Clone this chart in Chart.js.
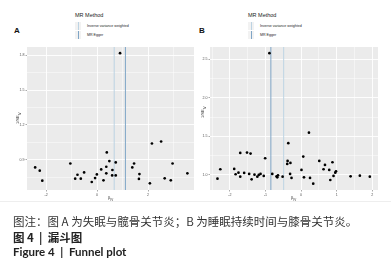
<!DOCTYPE html>
<html>
<head>
<meta charset="utf-8">
<script src="https://cdn.jsdelivr.net/npm/chart.js@4.4.1/dist/chart.umd.min.js"></script>
<style>
  body { margin: 0; width: 391px; height: 267px; background: #fff; position: relative; overflow: hidden; font-family: "Liberation Sans", Arial, sans-serif; }
  .abs { position: absolute; white-space: nowrap; }
  canvas { position: absolute; }
  .lgTitle { font-size: 5.5px; color: #222; }
  .lgTxt { font-size: 3.6px; color: #222; }
  .key { position: absolute; width: 6px; height: 8px; background: #f2f2f2; }
  .key i { position: absolute; left: 2.5px; top: 0; width: 1px; height: 8px; }
  .panel { font-weight: bold; font-size: 8px; color: #111; }
  .ytitle { font-size: 4px; color: #333; transform: rotate(-90deg); transform-origin: left top; }
  .xtitle { font-size: 4px; color: #333; }
  .cap { font-family: "Noto Sans CJK SC", sans-serif; font-size: 11.5px; color: #333; }
  .capb { font-family: "Noto Sans CJK SC", sans-serif; font-size: 11.5px; font-weight: bold; color: #222; }
  .capEn { font-family: Lato, sans-serif; font-size: 11.5px; font-weight: bold; color: #222; }
</style>
</head>
<body>
<canvas id="chartA" style="left:0;top:40px;width:200px;height:165px" width="200" height="165"></canvas>
<canvas id="chartB" style="left:200px;top:40px;width:191px;height:165px" width="191" height="165"></canvas>

<div class="abs panel" style="left:14px;top:26px">A</div>
<div class="abs panel" style="left:199px;top:26px">B</div>

<div class="abs lgTitle" style="left:75px;top:12px">MR Method</div>
<div class="key" style="left:75px;top:22px"><i style="background:#bcd3e3"></i></div>
<div class="key" style="left:75px;top:31px"><i style="background:#7fa5c6"></i></div>
<div class="abs lgTxt" style="left:87px;top:24px">Inverse variance weighted</div>
<div class="abs lgTxt" style="left:87px;top:32.5px">MR Egger</div>

<div class="abs lgTitle" style="left:248px;top:12px">MR Method</div>
<div class="key" style="left:248px;top:22px"><i style="background:#bcd3e3"></i></div>
<div class="key" style="left:248px;top:31px"><i style="background:#7fa5c6"></i></div>
<div class="abs lgTxt" style="left:260px;top:24px">Inverse variance weighted</div>
<div class="abs lgTxt" style="left:260px;top:32.5px">MR Egger</div>

<div class="abs ytitle" style="left:15px;top:124px">1/SE<sub style="font-size:3px">IV</sub></div>
<div class="abs ytitle" style="left:200px;top:118px">1/SE<sub style="font-size:3px">IV</sub></div>
<div class="abs xtitle" style="left:108px;top:195px">β<sub style="font-size:3px">IV</sub></div>
<div class="abs xtitle" style="left:291px;top:195px">β<sub style="font-size:3px">IV</sub></div>

<div class="abs" style="left:0;top:201px;width:391px;height:1px;background:#eee"></div>
<div class="abs cap" style="left:13px;top:213px">图注：图 A 为失眠与髋骨关节炎；B 为睡眠持续时间与膝骨关节炎。</div>
<div class="abs capb" style="left:13px;top:229px">图 4 &nbsp;|&nbsp; 漏斗图</div>
<div class="abs capEn" style="left:13px;top:245px">Figure 4 &nbsp;|&nbsp; Funnel plot</div>

<script>
// Panel A: insomnia vs hip osteoarthritis
const betaA = [-2.43, -2.25, -2.15, -1.05, -0.86, -0.77, -0.64, -0.51, -0.21, -0.08, -0.01, 0.16, 0.25, 0.36, 0.38, 0.36,
  0.48, 0.60, 0.59, 0.73, 0.73, 1.38, 1.45, 1.66, 1.64, 2.07, 2.15, 2.51, 2.65, 2.89, 2.96, 3.54, 0.90];
const invSeA = [0.834, 0.806, 0.720, 0.868, 0.737, 0.771, 0.737, 0.791, 0.709, 0.743, 0.774, 0.817, 0.723, 0.840, 0.963, 0.783,
  0.889, 0.812, 0.765, 0.877, 0.765, 0.834, 0.868, 0.777, 0.735, 0.697, 1.040, 1.057, 0.740, 0.723, 0.868, 0.783, 1.817];
const ivwA = 0.67;
const eggerA = 1.11;
const xMajorA = [-2, 0, 2];
const xMinorA = [-1, 1, 3];
const yMajorA = [0.9, 1.2, 1.5, 1.8];
const yMinorA = [0.75, 1.05, 1.35, 1.65];

// Panel B: sleep duration vs knee osteoarthritis
const betaB = [-2.35, -2.27, -1.88, -1.84, -1.76, -1.71, -1.71, -1.60, -1.52, -1.46, -1.42, -1.39, -1.31, -1.23, -1.19, -1.14,
  -1.05, -1.01, -0.81, -0.69, -0.67, -0.65, -0.52, -0.39, -0.38, -0.36, -0.31, -0.30, -0.27, 0.01, 0.06, 0.08, 0.22, 0.25,
  0.34, 0.51, 0.63, 0.67, 0.79, 0.82, 0.88, 0.91, 0.96, 0.98, 1.39, 1.65, 1.93, -0.89];
const invSeB = [0.952, 1.074, 1.078, 1.009, 1.030, 1.286, 0.978, 1.026, 1.290, 1.013, 1.277, 0.944, 1.004, 0.978, 1.000, 1.013,
  0.987, 1.217, 1.013, 0.983, 0.970, 0.996, 0.978, 1.143, 1.182, 1.412, 1.013, 1.156, 0.961, 1.065, 1.238, 0.970, 1.549, 0.961,
  0.887, 1.182, 1.074, 1.130, 1.065, 0.935, 1.165, 0.987, 1.030, 1.048, 0.983, 0.991, 0.978, 2.580];
const ivwB = -0.49;
const eggerB = -0.85;
const xMajorB = [-2, -1, 0, 1, 2];
const xMinorB = [-2.5, -1.5, -0.5, 0.5, 1.5];
const yMajorB = [1.0, 1.5, 2.0, 2.5];
const yMinorB = [1.25, 1.75, 2.25];

const panelBg = {
    id: "panelBg",
    beforeDraw(chart) {
        const a = chart.chartArea;
        chart.ctx.save();
        chart.ctx.fillStyle = "#ebebeb";
        chart.ctx.fillRect(a.left, a.top, a.right - a.left, a.bottom - a.top);
        chart.ctx.restore();
    }
};

function axis(major, minor, min, max, size, horizontal) {
    const all = major.concat(minor).sort((a, b) => a - b);
    return {
        type: "linear",
        min, max,
        afterBuildTicks: s => { s.ticks = all.map(v => ({ value: v })); },
        afterFit: s => { if (horizontal) s.height = size; else s.width = size; },
        border: { display: false },
        grid: {
            color: "#ffffff",
            lineWidth: c => major.includes(c.tick.value) ? 0.9 : 0.45,
            tickColor: c => major.includes(c.tick.value) ? "#555" : "rgba(0,0,0,0)",
            tickLength: 1.5,
            tickWidth: 0.5
        },
        ticks: {
            autoSkip: false,
            maxRotation: 0,
            padding: 1,
            color: "#555",
            font: { size: 3.6, family: "Liberation Sans" },
            callback: v => major.includes(v) ? v.toFixed(1).replace(/\.0$/, horizontal ? "" : ".0") : ""
        }
    };
}

function makeChart(id, beta, invSe, ivw, egger, xr, yr, xMaj, xMin, yMaj, yMin, yW, pad) {
    const pts = beta.map((b, i) => ({ x: b, y: invSe[i] }));
    new Chart(document.getElementById(id), {
        type: "scatter",
        data: {
            datasets: [
                { data: pts, backgroundColor: "#000", borderColor: "#000", pointRadius: 1.35, pointHoverRadius: 1.35, borderWidth: 0 },
                { type: "line", data: [{ x: ivw, y: yr[0] }, { x: ivw, y: yr[1] }], borderColor: "#bcd3e3", borderWidth: 1, pointRadius: 0 },
                { type: "line", data: [{ x: egger, y: yr[0] }, { x: egger, y: yr[1] }], borderColor: "#7fa5c6", borderWidth: 1, pointRadius: 0 }
            ]
        },
        options: {
            responsive: false,
            animation: false,
            devicePixelRatio: 1,
            layout: { padding: pad },
            plugins: { legend: { display: false }, tooltip: { enabled: false } },
            scales: {
                x: axis(xMaj, xMin, xr[0], xr[1], 15, true),
                y: axis(yMaj, yMin, yr[0], yr[1], yW, false)
            }
        },
        plugins: [panelBg]
    });
}

makeChart("chartA", betaA, invSeA, ivwA, eggerA, [-2.75, 3.8], [0.64, 1.87], xMajorA, xMinorA, yMajorA, yMinorA, 27,
    { top: 7, right: 6, left: 0, bottom: 0 });
makeChart("chartB", betaB, invSeB, ivwB, eggerB, [-2.56, 2.16], [0.805, 2.66], xMajorB, xMinorB, yMajorB, yMinorB, 10,
    { top: 7, right: 13, left: 0, bottom: 0 });
</script>
</body>
</html>
